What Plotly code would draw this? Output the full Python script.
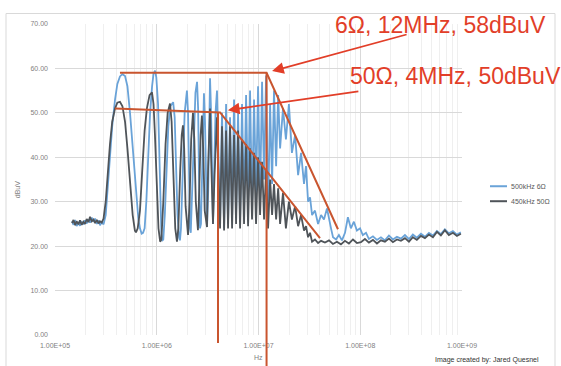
import math
import plotly.graph_objects as go

# ---------------- data ----------------
SERIES_NAMES = ["500kHz 6Ω", "450kHz 50Ω"]

BLUE_FREQ = [
    1.47e5, 1.52e5, 1.58e5, 1.63e5, 1.70e5, 1.76e5, 1.83e5, 1.90e5, 1.97e5, 2.05e5,
    2.13e5, 2.21e5, 2.30e5, 2.39e5, 2.48e5, 2.58e5, 2.68e5, 2.77e5, 2.88e5, 3.00e5,
    3.15e5, 3.30e5, 3.47e5, 3.65e5, 3.89e5, 4.10e5, 4.35e5, 4.60e5, 4.88e5, 5.15e5,
    5.46e5, 5.80e5, 6.25e5, 6.60e5, 6.84e5, 7.10e5, 7.33e5, 7.60e5, 7.90e5, 8.20e5,
    8.60e5, 9.00e5, 9.30e5, 9.62e5, 9.90e5, 1.03e6, 1.06e6, 1.09e6, 1.11e6, 1.13e6,
    1.16e6, 1.20e6, 1.25e6, 1.30e6, 1.36e6, 1.45e6, 1.50e6, 1.55e6, 1.60e6, 1.66e6,
    1.69e6, 1.73e6, 1.80e6, 1.88e6, 1.98e6, 2.03e6, 2.08e6, 2.12e6, 2.16e6, 2.22e6,
    2.30e6, 2.40e6, 2.49e6, 2.55e6, 2.60e6, 2.66e6, 2.72e6, 2.80e6, 2.91e6, 2.98e6,
    3.04e6, 3.12e6, 3.20e6, 3.27e6, 3.34e6, 3.42e6, 3.50e6, 3.57e6, 3.65e6, 3.78e6,
    3.91e6, 4.00e6, 4.10e6,
    4.19e6, 4.38e6, 4.59e6, 4.80e6, 5.02e6, 5.25e6, 5.50e6, 5.75e6, 6.02e6, 6.30e6,
    6.59e6, 6.89e6, 7.21e6, 7.55e6, 7.90e6, 8.26e6, 8.64e6, 9.04e6, 9.46e6, 9.90e6,
    1.036e7, 1.084e7, 1.134e7, 1.187e7, 1.242e7, 1.30e7, 1.36e7, 1.42e7, 1.49e7, 1.56e7,
    1.63e7, 1.74e7, 1.86e7, 1.99e7, 2.13e7, 2.29e7, 2.45e7, 2.62e7, 2.80e7, 2.93e7,
    3.07e7, 3.21e7, 3.36e7, 3.59e7, 3.85e7, 4.12e7, 4.40e7, 4.71e7, 4.93e7, 5.16e7,
    5.40e7, 5.78e7, 6.17e7, 6.61e7, 7.08e7, 7.56e7, 8.09e7, 8.66e7, 9.27e7, 9.95e7,
    1.06e8, 1.14e8,
    1.217e8, 1.333e8, 1.459e8, 1.597e8, 1.748e8, 1.914e8, 2.095e8, 2.293e8, 2.51e8, 2.75e8,
    3.01e8, 3.29e8, 3.60e8, 3.95e8, 4.32e8, 4.73e8, 5.18e8, 5.67e8, 6.20e8, 6.79e8,
    7.43e8, 8.14e8, 8.91e8, 9.75e8,
]
BLUE_DBUV = [
    25.6, 24.8, 25.9, 24.5, 25.2, 24.6, 25.4, 24.9, 25.8, 25.1,
    26.0, 25.3, 26.4, 25.5, 26.2, 25.0, 25.8, 24.7, 25.4, 24.9,
    27.0, 33.0, 40.0, 47.0, 53.0, 56.5, 58.2, 58.7, 58.3, 56.0,
    50.0, 42.0, 33.0, 26.0, 24.0, 22.8, 23.0, 24.0, 30.0, 40.0,
    50.0, 56.0, 58.8, 59.5, 58.0, 52.0, 40.0, 30.0, 23.0, 21.2,
    21.5, 27.0, 38.0, 47.0, 51.5, 52.4, 49.0, 38.0, 27.0, 22.0,
    21.3, 24.0, 38.0, 50.0, 55.0, 50.0, 36.0, 24.0, 23.0, 32.0,
    46.0, 54.5, 57.0, 51.0, 36.0, 24.0, 25.0, 40.0, 54.4, 48.0,
    33.0, 24.3, 32.0, 48.0, 57.8, 50.0, 32.0, 25.0, 35.0, 50.0,
    55.0, 44.0, 30.0,
    25.0, 50.0, 24.0, 52.0, 25.0, 49.0, 26.0, 53.0, 27.0, 50.0,
    26.0, 52.0, 28.0, 54.0, 30.0, 55.0, 29.0, 53.0, 32.0, 56.0,
    31.0, 57.0, 35.0, 58.4, 27.0, 52.0, 34.0, 55.0, 38.0, 54.0,
    42.0, 51.0, 44.0, 52.0, 41.0, 45.0, 36.0, 41.0, 34.0, 38.0,
    30.0, 31.0, 27.0, 28.0, 25.0, 27.0, 26.0, 28.5, 26.0, 24.0,
    22.0, 21.5, 22.5, 21.3, 23.0, 26.5, 24.0, 25.5, 23.5, 24.0,
    22.5, 23.0,
    21.6, 22.2, 21.4, 22.0, 21.3, 22.4, 21.5, 22.1, 21.7, 22.5,
    21.6, 22.6, 21.9, 22.8, 22.1, 23.0, 22.4, 23.4, 22.7, 23.8,
    22.9, 23.4, 22.6, 23.1,
]

DARK_FREQ = [
    1.47e5, 1.52e5, 1.58e5, 1.63e5, 1.70e5, 1.76e5, 1.83e5, 1.90e5, 1.97e5, 2.05e5,
    2.13e5, 2.21e5, 2.30e5, 2.39e5, 2.48e5, 2.58e5, 2.68e5, 2.77e5, 2.88e5, 3.00e5,
    3.15e5, 3.30e5, 3.47e5, 3.65e5, 3.89e5, 4.10e5, 4.35e5, 4.60e5, 4.88e5, 5.15e5,
    5.46e5, 5.80e5, 6.10e5, 6.25e5, 6.50e5, 6.84e5, 7.20e5, 7.60e5, 8.00e5, 8.50e5,
    8.98e5, 9.30e5, 9.60e5, 1.00e6, 1.04e6, 1.08e6, 1.11e6, 1.16e6, 1.22e6, 1.28e6,
    1.35e6, 1.40e6, 1.46e6, 1.52e6, 1.58e6, 1.63e6, 1.70e6, 1.76e6, 1.81e6, 1.86e6,
    1.92e6, 2.03e6, 2.10e6, 2.18e6, 2.27e6, 2.34e6, 2.42e6, 2.54e6, 2.62e6, 2.70e6,
    2.78e6, 2.86e6, 2.96e6, 3.12e6, 3.20e6, 3.34e6, 3.42e6, 3.57e6, 3.70e6, 3.91e6,
    4.02e6,
    4.19e6, 4.38e6, 4.59e6, 4.80e6, 5.02e6, 5.25e6, 5.50e6, 5.75e6, 6.02e6, 6.30e6,
    6.59e6, 6.89e6, 7.21e6, 7.55e6, 7.90e6, 8.26e6, 8.64e6, 9.04e6, 9.46e6, 9.90e6,
    1.036e7, 1.084e7, 1.134e7, 1.187e7, 1.242e7, 1.30e7, 1.36e7, 1.42e7, 1.49e7, 1.56e7,
    1.63e7, 1.74e7, 1.86e7, 1.99e7, 2.13e7, 2.29e7, 2.45e7, 2.62e7, 2.80e7, 2.93e7,
    3.07e7, 3.21e7, 3.36e7, 3.59e7, 3.85e7, 4.12e7,
    4.50e7, 4.93e7, 5.39e7, 5.90e7, 6.46e7, 7.07e7, 7.74e7, 8.48e7, 9.28e7, 1.016e8,
    1.112e8, 1.217e8, 1.333e8, 1.459e8, 1.597e8, 1.748e8, 1.914e8, 2.095e8, 2.293e8, 2.51e8,
    2.75e8, 3.01e8, 3.29e8, 3.60e8, 3.95e8, 4.32e8, 4.73e8, 5.18e8, 5.67e8, 6.20e8,
    6.79e8, 7.43e8, 8.14e8, 8.91e8, 9.75e8,
]
DARK_DBUV = [
    25.2, 25.9, 24.7, 25.6, 24.9, 25.8, 24.8, 25.5, 25.0, 26.1,
    25.4, 26.6, 25.6, 26.0, 25.2, 25.9, 25.1, 25.6, 25.3, 26.2,
    30.0, 37.0, 43.0, 48.0, 51.0, 52.3, 52.5, 51.5, 48.0, 42.0,
    34.0, 27.0, 23.5, 23.1, 24.0, 28.0, 37.0, 46.0, 51.0, 54.0,
    54.6, 52.0, 45.0, 33.0, 24.0, 21.0, 21.5, 30.0, 43.0, 50.0,
    52.1, 48.0, 35.0, 24.0, 21.0, 24.0, 37.0, 45.0, 47.2, 42.0,
    29.0, 22.5, 30.0, 44.0, 50.0, 44.0, 30.0, 23.6, 33.0, 45.0,
    49.4, 42.0, 28.0, 24.3, 38.0, 51.0, 40.0, 25.0, 36.0, 49.0,
    38.0,
    24.0, 47.0, 23.5, 46.0, 24.0, 47.0, 24.0, 45.0, 25.0, 46.0,
    24.0, 44.0, 25.0, 43.0, 24.5, 42.0, 26.0, 41.0, 25.0, 40.0,
    27.0, 39.0, 26.0, 37.0, 24.0, 35.0, 27.0, 34.0, 26.0, 33.0,
    25.0, 32.0, 24.0, 30.0, 26.0, 29.0, 24.5, 27.0, 23.5, 24.5,
    22.0, 23.0, 21.0, 21.5, 20.7, 21.2,
    20.8, 21.3, 20.5, 21.0, 20.4, 21.2, 20.6, 21.5, 20.7, 20.9,
    21.6, 20.8, 21.4, 20.6, 21.3, 21.0, 21.7, 20.9, 21.5, 21.2,
    21.8, 21.0, 22.0, 21.4, 22.3, 21.8, 22.6, 22.0, 23.2, 22.4,
    23.6, 22.5, 23.0, 22.3, 22.8,
]

X_TICK_VALUES = [1e5, 1e6, 1e7, 1e8, 1e9]
X_TICK_LABELS = ["1.00E+05", "1.00E+06", "1.00E+07", "1.00E+08", "1.00E+09"]

# annotation envelopes (freq Hz, dBuV)
ENV_6OHM_FREQ = [4.35e5, 1.2e7, 6.04e7]
ENV_6OHM_DBUV = [59.0, 59.0, 23.8]
ENV_50OHM_FREQ = [3.89e5, 4.19e6, 4.02e7]
ENV_50OHM_DBUV = [51.0, 50.1, 21.8]
MARK_FREQ = [4.0e6, 1.2e7]
MARK_TOP_DBUV = [50.1, 59.0]
MARK_BOTTOM_DBUV = [-1.8, -8.0]
CALLOUT_TEXT = ["6Ω, 12MHz, 58dBuV", "50Ω, 4MHz, 50dBuV"]
ARROW_TIP_FREQ = [1.36e7, 5.0e6]
ARROW_TIP_DBUV = [59.4, 50.6]

# ---------------- layout helpers ----------------
W, H = 561, 366
L, R, T, B = 55, 99, 23.5, 31
PW, PH = W - L - R, H - T - B
XMIN, XMAX = 5, 9
YMIN, YMAX = 0, 70


def px2paper(xp, yp):
    return (xp - L) / PW, (H - B - yp) / PH


def data2paper(f, d):
    return (math.log10(f) - XMIN) / (XMAX - XMIN), (d - YMIN) / (YMAX - YMIN)


BLUE = "#6aa3d8"
DARK = "#4f5459"
ORANGE = "#c9552f"
RED = "#e23e28"
GRAY_TXT = "#7f7f7f"

fig = go.Figure()
fig.add_trace(go.Scatter(x=BLUE_FREQ, y=BLUE_DBUV, mode="lines", name=SERIES_NAMES[0],
                         line=dict(color=BLUE, width=1.8), showlegend=False))
fig.add_trace(go.Scatter(x=DARK_FREQ, y=DARK_DBUV, mode="lines", name=SERIES_NAMES[1],
                         line=dict(color=DARK, width=1.8), showlegend=False))

shapes = []
# outer chart border
x0, y0 = px2paper(6, 372)
x1, y1 = px2paper(555, 13)
shapes.append(dict(type="rect", xref="paper", yref="paper", x0=x0, y0=y0, x1=x1, y1=y1,
                   line=dict(color="#d9d9d9", width=1), layer="below"))


def polyline(fs, ds):
    pts = [data2paper(f, d) for f, d in zip(fs, ds)]
    path = "M " + " L ".join(f"{x:.5f},{y:.5f}" for x, y in pts)
    return dict(type="path", xref="paper", yref="paper", path=path,
                line=dict(color=ORANGE, width=2))


shapes.append(polyline(ENV_6OHM_FREQ, ENV_6OHM_DBUV))
shapes.append(polyline(ENV_50OHM_FREQ, ENV_50OHM_DBUV))
for f, top, bot in zip(MARK_FREQ, MARK_TOP_DBUV, MARK_BOTTOM_DBUV):
    shapes.append(polyline([f, f], [top, bot]))

# manual legend
legend_y = [186, 201]
for name, col, yp in zip(SERIES_NAMES, [BLUE, DARK], legend_y):
    lx0, ly = px2paper(490, yp)
    lx1, _ = px2paper(507, yp)
    shapes.append(dict(type="line", xref="paper", yref="paper", x0=lx0, x1=lx1, y0=ly, y1=ly,
                       line=dict(color=col, width=2)))

annotations = []
for name, yp in zip(SERIES_NAMES, legend_y):
    ax_, ay_ = px2paper(509, yp)
    annotations.append(dict(xref="paper", yref="paper", x=ax_, y=ay_, text=name, showarrow=False,
                            xanchor="left", yanchor="middle",
                            font=dict(family="Liberation Sans", size=7, color="#595959")))

# callout texts
for txt, (xp, yp) in zip(CALLOUT_TEXT, [(333, 24.5), (348, 75.5)]):
    tx, ty = px2paper(xp, yp)
    annotations.append(dict(xref="paper", yref="paper", x=tx, y=ty, text=txt, showarrow=False,
                            xanchor="left", yanchor="middle",
                            font=dict(family="Liberation Sans", size=23, color=RED)))

# arrows
for f, d, (dx, dy) in zip(ARROW_TIP_FREQ, ARROW_TIP_DBUV, [(136, -37), (132, -19)]):
    ax_, ay_ = data2paper(f, d)
    annotations.append(dict(xref="paper", yref="paper", x=ax_, y=ay_, text="", showarrow=True,
                            ax=dx, ay=dy, arrowhead=2, arrowsize=1.3, arrowwidth=1.8,
                            arrowcolor=RED))

# axis titles & credit
tx, ty = px2paper(17, 190)
annotations.append(dict(xref="paper", yref="paper", x=tx, y=ty, text="dBuV", showarrow=False,
                        textangle=-90, xanchor="center", yanchor="middle",
                        font=dict(family="Liberation Sans", size=7, color=GRAY_TXT)))
tx, ty = px2paper(258, 358)
annotations.append(dict(xref="paper", yref="paper", x=tx, y=ty, text="Hz", showarrow=False,
                        xanchor="center", yanchor="middle",
                        font=dict(family="Liberation Sans", size=7, color=GRAY_TXT)))
tx, ty = px2paper(433, 366)
annotations.append(dict(xref="paper", yref="paper", x=tx, y=ty, text="Image created by: Jared Quesnel",
                        showarrow=False, xanchor="left", yanchor="bottom",
                        font=dict(family="Liberation Sans", size=7, color="#333333")))

minor_vals = [m * 10 ** e for e in range(5, 9) for m in range(2, 10)]

fig.update_layout(
    width=W, height=H,
    margin=dict(l=L, r=R, t=T, b=B, pad=0),
    paper_bgcolor="white", plot_bgcolor="white",
    showlegend=False,
    shapes=shapes, annotations=annotations,
    xaxis=dict(type="log", range=[XMIN, XMAX], tickvals=X_TICK_VALUES, ticktext=X_TICK_LABELS,
               showgrid=True, gridcolor="#d9d9d9", gridwidth=1, zeroline=False, showline=False,
               ticks="", ticklabelstandoff=5,
               tickfont=dict(family="Liberation Sans", size=7, color=GRAY_TXT),
               minor=dict(tickvals=minor_vals, showgrid=True, gridcolor="#efefef", ticks=""),
               fixedrange=True),
    yaxis=dict(range=[YMIN, YMAX], dtick=10, tickformat=".2f", showgrid=True,
               gridcolor="#d9d9d9", zeroline=False, showline=False, ticks="",
               ticklabelstandoff=6,
               tickfont=dict(family="Liberation Sans", size=7, color=GRAY_TXT), fixedrange=True),
)

fig.write_html("out.html", config={"displayModeBar": False},
               post_script="document.body.style.margin='0px';")
